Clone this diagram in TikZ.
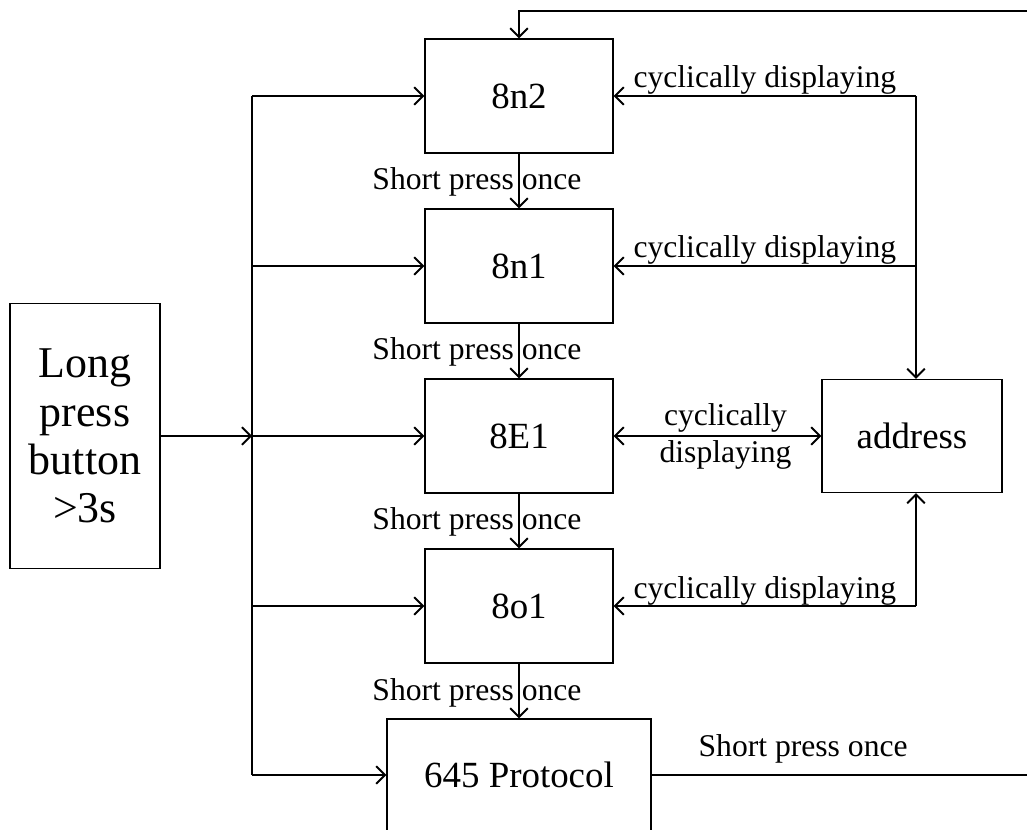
\documentclass[tikz,border=0pt]{standalone}
\usepackage{fontspec}
\setmainfont{Liberation Serif}
\usetikzlibrary{arrows.meta}

\begin{document}
\begin{tikzpicture}[x = 0.02cm, y = -0.02cm, line width = 1.1pt,
                        > = {Straight Barb[length = 5pt, width = 10pt]},
                        block/.style = {draw, line width = 0.8pt, inner sep = 0pt, minimum width = 3.76cm, minimum height = 2.28cm, font = \fontsize{21}{24}\selectfont},
                        lbl/.style = {inner sep = 0pt, anchor = base, font = \fontsize{18}{21}\selectfont}]
      \useasboundingbox (0, 0) rectangle (1027, 830);
      \clip (0, 0) rectangle (1027, 830);

      \node [draw, line width = 0.8pt, inner sep = 0pt, minimum width = 3cm, minimum height = 5.3cm, align = center, font = \fontsize{25}{27.5}\selectfont] (start) at (85, 436){Long\\press\\button\\>3s};
      \node [block] (m1) at (519, 96){8n2};
      \node [block] (m2) at (519, 266){8n1};
      \node [block] (m3) at (519, 436){8E1};
      \node [block] (m4) at (519, 606){8o1};
      \node [block, minimum width = 5.28cm, minimum height = 2.24cm] (m5) at (519, 775){645 Protocol};
      \node [block, minimum width = 3.6cm, minimum height = 2.26cm] (addr) at (912, 436){address};

      \coordinate (b1) at (252, 96);
      \coordinate (b2) at (252, 266);
      \coordinate (b3) at (252, 436);
      \coordinate (b4) at (252, 606);
      \coordinate (b5) at (252, 775);
      \coordinate (r1) at (916, 96);
      \coordinate (r2) at (916, 266);
      \coordinate (r4) at (916, 606);
      \coordinate (t1) at (519, 11);
      \coordinate (t2) at (1040, 11);
      \coordinate (t3) at (1040, 775);

      \draw (b1) -- (b5);
      \draw [->] (start) -- (b3);
      \foreach \i in {1, ..., 5}
        \draw [->] (b\i) -- (m\i);
      \foreach \i/\j in {1/2, 2/3, 3/4, 4/5}
        \draw [->] (m\i) -- node [lbl, xshift = -0.84cm, yshift = -0.18cm]{Short press once} (m\j);

      \draw [->] (r1) -- node [lbl, yshift = 0.16cm]{cyclically displaying} (m1);
      \draw [->] (r2) -- node [lbl, yshift = 0.16cm]{cyclically displaying} (m2);
      \draw [->] (r4) -- node [lbl, yshift = 0.16cm]{cyclically displaying} (m4);
      \draw [->] (r1) -- (r1 |- addr.north);
      \draw [->] (r4) -- (r4 |- addr.south);
      \draw [<->] (m3) -- node [lbl, xshift = 0.16cm, yshift = 0.22cm]{cyclically}
                          node [lbl, xshift = 0.16cm, yshift = -0.54cm]{displaying} (addr);

      \draw [->] (m5) -- node [lbl, pos = 0.39, yshift = 0.38cm]{Short press once} (t3) -- (t2) -- (t1) -- (m1);
      \end{tikzpicture}
\end{document}
